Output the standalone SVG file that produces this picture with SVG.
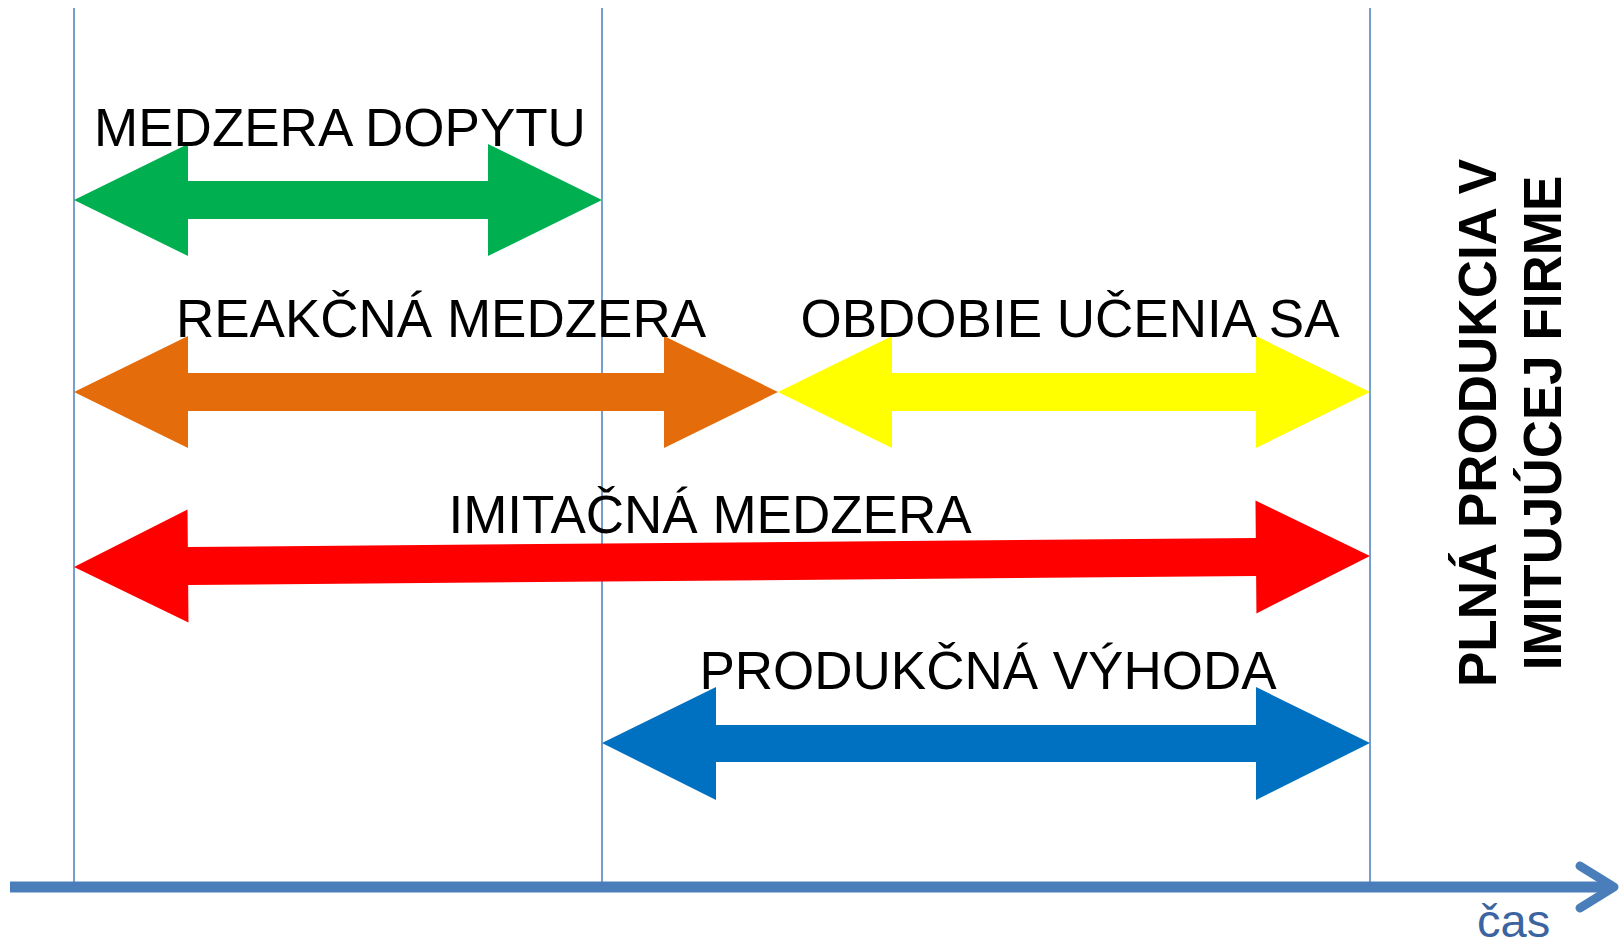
<svg xmlns="http://www.w3.org/2000/svg" width="1621" height="948" viewBox="0 0 1621 948">
  <style>
    .lbl { font-family: "Liberation Sans", Arial, sans-serif; font-size: 53px; fill: #000000; text-anchor: middle; }
    .vlbl { font-family: "Liberation Sans", Arial, sans-serif; font-size: 53px; font-weight: bold; fill: #000000; text-anchor: middle; }
    .grid { stroke: #4A7EBB; stroke-width: 1.5; fill: none; }
    .axis { stroke: #4A7EBB; stroke-width: 11; fill: none; }
    .axhead { stroke: #4A7EBB; stroke-width: 9; fill: none; stroke-linecap: round; stroke-linejoin: round; }
    .cas { font-family: "Liberation Sans", Arial, sans-serif; font-size: 47px; fill: #3B64A0; }
  </style>
  <rect width="1621" height="948" fill="#FFFFFF"/>

  <g id="connectors">
    <line class="grid" x1="74" y1="8" x2="74" y2="887"/>
    <line class="grid" x1="602" y1="8" x2="602" y2="887"/>
    <line class="grid" x1="1370" y1="8" x2="1370" y2="887"/>
    <line class="axis" x1="10" y1="887" x2="1612" y2="887"/>
    <polyline class="axhead" points="1580,866 1614,887 1580,908"/>
  </g>

  <g id="medzera-dopytu">
    <polygon fill="#00B050" points="74,200 188,144 188,181 488,181 488,144 602,200 488,256 488,219 188,219 188,256"/>
    <text class="lbl" x="340" y="146">MEDZERA DOPYTU</text>
  </g>

  <g id="reakcna-medzera">
    <polygon fill="#E46C0A" points="74,392 188,336 188,373 664,373 664,336 778,392 664,448 664,411 188,411 188,448"/>
    <text class="lbl" x="441" y="337">REAKČNÁ MEDZERA</text>
  </g>

  <g id="obdobie-ucenia">
    <polygon fill="#FFFF00" points="778,392 892,336 892,373 1256,373 1256,336 1370,392 1256,448 1256,411 892,411 892,448"/>
    <text class="lbl" x="1070" y="337">OBDOBIE UČENIA SA</text>
  </g>

  <g id="imitacna-medzera">
    <polygon fill="#FF0000" transform="translate(74,567) rotate(-0.486)" points="0,0 114,-56.5 114,-19 1182,-19 1182,-56.5 1296,0 1182,56.5 1182,19 114,19 114,56.5"/>
    <text class="lbl" x="710" y="533">IMITAČNÁ MEDZERA</text>
  </g>

  <g id="produkcna-vyhoda">
    <polygon fill="#0070C0" points="602,743 716,687 716,725 1256,725 1256,687 1370,743 1256,800 1256,762 716,762 716,800"/>
    <text class="lbl" x="988" y="689">PRODUKČNÁ VÝHODA</text>
  </g>

  <g id="plna-produkcia">
    <text class="vlbl" transform="translate(1496,423) rotate(-90)">PLNÁ PRODUKCIA V</text>
    <text class="vlbl" transform="translate(1561,423) rotate(-90)">IMITUJÚCEJ FIRME</text>
  </g>

  <g id="cas-label">
    <text class="cas" x="1477" y="937">čas</text>
  </g>
</svg>
